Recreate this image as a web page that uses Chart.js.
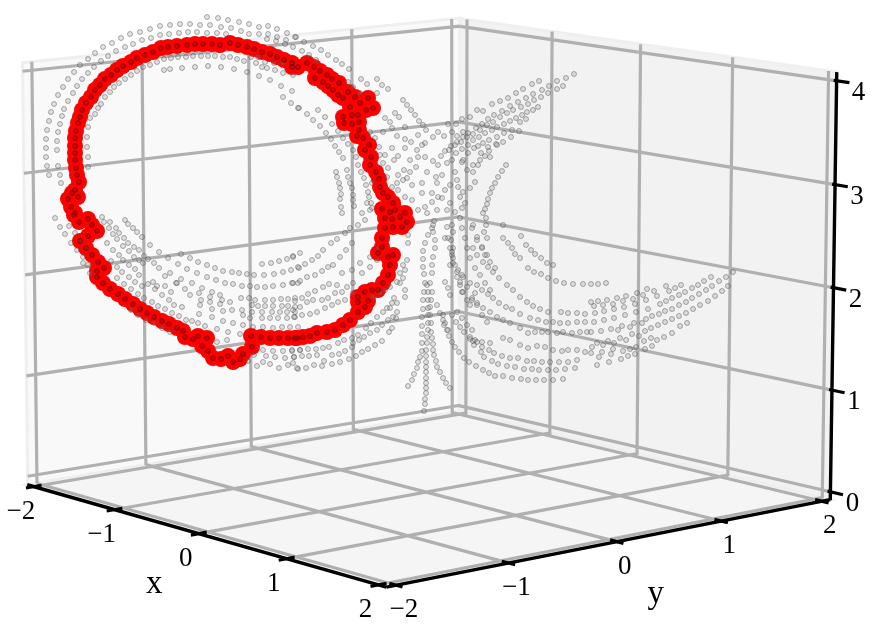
<!DOCTYPE html>
<html><head><meta charset="utf-8">
<style>html,body{margin:0;padding:0;background:#fff}canvas{display:block}</style>
<script src="https://cdn.jsdelivr.net/npm/chart.js@4"></script>
</head><body><canvas id="c" width="889" height="641"></canvas>
<script>
const xTicks=[-2,-1,0,1,2], yTicks=[-2,-1,0,1,2], zTicks=[0,1,2,3,4];
const xLabel='x', yLabel='y';
const L=2.0833, zLo=-0.0833, zHi=4.0833;
// calibration of each box face: two box coordinates -> view position
const leftWallCal=[[-2,4,32,71],[2,4,452,27],[2,0,452,407],[-2,0,37,475],[0,2,250,246],[-L,zHi,22,62],[L,zHi,460,18],[-L,zLo,28,485],[L,zLo,460,414],[-1,3,143,160],[-1,2,144,257],[-1,1,145,358],[0,3,249,147],[1,3,352,135],[1,2,353,230],[1,1,353,325]];
const rightWallCal=[[-2,4,467,28],[-2,0,465,407],[2,4,829,80],[2,0,822,491],[0,2,639,251],[-L,zHi,460,18],[L,zHi,836,72],[L,zLo,830,500],[-L,zLo,460,414],[0,4,640,52],[0,3,639,153],[1,3,732,167],[1,4,733,66],[0,1,638,348],[1,1,729,368],[1,2,731,268]];
const floorCal=[[-1,-2,123,508],[1,-2,297,557],[2,-1,501,561],[2,1,711,519],[1,1,621,495],[-1,-1,235,488],[1,-1,405,535],[-1,1,445,449],[0,-1,318,512],[1,0,516,515],[-1,0,340,469],[0,1,529,474],[-L,-L,27,485],[L,-L,388,587],[L,L,830,500],[-L,L,460,413],[-L,-1,146,466],[-L,0,252,448],[-L,1,353,429],[-1,L,550,430],[0,L,637,454],[1,L,728,476],[2,L,823,499]];
// highlighted ring, projected view positions
const ringTopLeft=[[220,45],[212,44],[203,44],[195,44],[187,45],[177,46],[168,47],[161,48],[153,52],[145,55],[137,58],[131,62],[123,66],[117,70],[111,75],[105,79],[100,85],[95,90],[91,97],[86,103],[82,110],[80,117],[78,123],[76,131],[75,138],[75,146],[75,153],[75,160],[76,168],[77,175],[79,182],[75,190],[72,193],[68,199],[78,197],[71,207],[75,213]];
const ringTopRight=[[230,43],[238,45],[247,47],[254,49],[262,52],[270,54],[277,57],[284,60],[292,63],[292,67],[298,67],[307,63],[314,67],[320,71],[315,78],[323,82],[327,75],[332,79],[339,83],[333,90],[328,86],[338,95],[348,92],[355,97],[343,98],[350,107],[360,103],[368,98],[366,110],[373,108],[358,115],[352,115],[343,117],[344,123],[352,124],[359,122],[359,130],[357,136],[363,138],[369,145],[365,150],[371,157],[370,165],[376,172],[379,179],[380,187],[383,193],[388,197],[393,203],[382,209],[390,212],[395,210],[405,213]];
const ringRight=[[385,218],[392,219],[400,217],[407,222],[402,227],[393,227],[385,228],[382,238],[382,247],[378,253],[388,257],[393,255],[390,265],[388,275],[383,283],[378,290],[372,290],[365,292],[358,297],[358,302],[368,301],[365,307],[358,312],[350,320],[343,325],[335,330],[327,332],[317,333],[310,336],[303,337],[295,338]];
const ringBottom=[[297,338],[288,338],[279,338],[270,338],[261,337],[251,336],[252,347],[243,354],[240,359],[233,362],[228,356],[221,359],[213,358],[208,351],[202,346],[207,338],[198,336],[193,339],[185,337],[183,331],[177,328],[169,324],[162,321],[154,317],[147,313],[140,309],[133,304],[125,299],[118,294],[110,289],[103,283],[97,277],[104,268],[97,271],[98,262],[92,255],[86,248],[80,241],[88,236],[97,231],[88,219],[79,222],[74,215],[92,225]];
// faint surface points, projected view positions
const grayUpper=[[49,175],[47,166],[46,157],[46,148],[46,139],[47,130],[49,121],[51,112],[54,104],[58,95],[63,87],[68,79],[74,72],[80,65],[88,59],[95,53],[103,47],[112,43],[121,38],[130,34],[140,32],[150,29],[160,26],[170,25],[180,24],[190,24],[200,25],[210,25],[221,27],[231,28],[241,31],[249,34],[207,17],[218,18],[228,20],[239,22],[249,24],[259,27],[268,26],[277,29],[287,33],[296,37],
[61,183],[60,175],[58,166],[57,150],[57,141],[58,132],[60,124],[62,116],[64,109],[68,101],[73,93],[77,86],[82,79],[88,73],[94,67],[101,61],[108,56],[116,51],[125,47],[133,44],[142,40],[151,38],[160,35],[169,34],[179,33],[188,32],[197,32],[207,33],[217,33],[226,34],
[88,167],[88,157],[87,147],[87,137],[88,127],[90,118],[95,114],[98,108],[101,104],[105,97],[110,92],[114,87],[119,83],[125,79],[131,75],[137,71],[143,67],[150,65],[157,62],[164,59],[171,58],[178,57],[186,57],[193,56],[201,56],[208,56],[215,56],[223,57],[230,57],[237,59],[244,61],
[164,70],[170,69],[182,68],[195,67],[208,66],[221,67],[234,69],[247,72],[259,76],[270,80],[281,86],[292,91],[283,97],[291,103],[298,108],
[251,57],[258,57],[265,62],[274,63],[283,63],[293,65],[267,68],[275,70],[283,73],[293,75],[256,63],[262,67],[259,34],[268,34],[277,37],[286,40],[293,47],[285,44],[276,41],[267,39],
[295,37],[304,42],[313,46],[321,50],[328,55],[336,60],[342,64],[349,69],[361,79],[367,84],[377,79],[382,85],[388,89],[403,100],[407,105],[411,110],[415,115],[419,121],[423,125],[426,130],
[302,51],[309,55],[316,60],[348,82],[353,87],[360,93],[377,93],[385,118],[390,122],[395,113],[399,117],[405,127],
[299,108],[307,114],[313,120],[320,126],[326,133],[331,139],[335,146],[339,152],[343,158],[318,110],[325,117],[332,124],[338,131],[343,138],[348,144],[353,150],[356,157],[358,165],
[336,172],[337,177],[339,183],[340,188],[341,194],[340,199],[341,207],[342,213],[347,170],[348,177],[350,183],[352,188],[353,195],[353,200],[354,206],[361,172],[364,178],[366,185],[368,192],[369,197],[371,203],[372,208]];
const grayFan=[[574,74],[566,78],[557,81],[549,86],[542,90],[533,94],[526,98],[518,102],[510,106],[502,111],[494,115],[488,119],[482,124],[476,128],[468,133],[463,137],[457,142],[451,146],[445,151],[441,156],
[539,81],[532,84],[523,89],[516,93],[508,98],[500,101],[492,104],[483,111],[477,110],[470,117],[462,119],[456,124],[448,124],
[563,86],[557,89],[548,93],[541,97],[534,100],[528,104],[521,107],[513,110],[507,113],[500,117],[493,122],[487,125],[480,130],[473,134],[467,137],[461,142],[455,145],[449,150],
[538,107],[533,110],[527,112],[522,115],[516,118],[510,121],[504,124],[497,127],[492,130],[485,133],[479,137],[473,140],[468,145],[462,149],[456,153],
[526,119],[520,122],[519,131],[512,130],[504,133],[497,137],[489,140],[483,143],[478,146],[474,148],[468,153],[463,160],
[511,137],[503,142],[496,144],[489,151],[485,156],[480,160],[478,165],[473,172],[506,165],[502,171],[498,177],[495,183],[492,188],[490,193],[488,199],[487,204],[485,209],[483,213]];
const grayCentre=[[383,132],[392,128],[397,136],[405,139],[411,142],[418,135],[425,143],[438,132],[433,137],[444,136],[452,132],[457,136],[463,132],[370,132],[375,138],[379,147],[380,155],[383,163],[388,168],[385,155],[392,148],[394,160],[398,156],[405,148],[410,160],[417,150],[422,145],[425,157],[418,157],[416,167],[410,172],[404,170],[398,175],[397,183],[403,180],[407,178],[412,185],[422,183],[427,172],[433,161],[438,165],[436,177],[442,175],[437,183],[447,163],[452,160],[455,172],[462,162],[457,180],[450,185],[445,190],[438,197],[432,202],[425,207],[418,210],[412,200],[405,197],[398,190],[392,187],[387,177],[372,183],[367,203],[370,210],[362,213],[422,193],[432,193],[442,198],[450,203],[458,187],[463,192],[470,188],[475,182],[467,170],[473,165],[481,153],[488,147],[497,145],[490,157],[460,197],[465,203],[462,208],[455,212],[447,210],[437,210],[427,213],
[445,238],[450,248],[453,258],[458,270],[463,277],[470,283],[475,293],[472,228],[477,240],[482,248],[487,255],[445,282],[448,288],[450,295],[443,315],[445,323],[448,330],[453,232],[453,248],[455,265],[457,277],[460,285],[462,292],[467,300],[470,305],[452,225],[451,240],[452,255],[450,265],
[473,225],[477,237],[482,247],[485,255],[490,262],[495,268],[460,218],[462,228],[465,238],[467,248],[470,258],[475,268],[480,275],[485,283],[490,290],[447,227],[448,238],[452,252],[453,263],[457,272],[460,282],[463,292],[462,275],[467,287],[472,298],[477,305],[482,315],[487,322],[457,312],[462,318],[467,325],[472,330],[475,340]];
const grayDrops=[[408,386],[412,380],[414,374],[417,368],[418,362],[420,357],[422,351],[422,343],[422,334],[422,326],[422,317],[423,309],[423,300],[424,292],[425,283],[424,274],[423,267],[423,259],[423,251],[425,243],[428,235],[432,228],[434,221],
[424,411],[425,404],[425,399],[426,393],[426,388],[426,383],[426,378],[426,372],[426,367],[426,362],[426,356],[426,350],[427,343],[427,337],[428,330],[428,323],[428,315],[428,308],[428,300],[428,292],[427,285],
[450,388],[446,383],[443,378],[440,372],[437,367],[436,361],[434,355],[433,350],[433,344],[432,338],[431,332],[431,323],[430,315],[430,307],[431,300],[432,292],[430,283],[432,273],[432,265],[433,257],[435,248],[435,240],[433,232],[433,225]];
const grayRightArcs=[[563,379],[553,380],[544,380],[536,380],[528,380],[521,379],[512,378],[503,376],[495,376],[489,373],[483,370],[476,366],[469,362],[464,358],[459,352],[455,347],[452,342],[449,336],[447,330],[444,325],[443,320],[440,313],[437,305],
[575,368],[565,369],[556,370],[548,370],[539,370],[532,369],[524,369],[515,367],[507,366],[498,364],[492,361],[484,357],[481,352],[474,345],[470,339],[464,332],[460,327],[456,322],[452,315],
[577,360],[568,362],[559,362],[550,362],[542,362],[534,361],[527,361],[518,358],[510,358],[502,356],[494,353],[489,350],[482,347],[477,342],[470,337],
[585,352],[577,350],[568,350],[562,351],[553,350],[545,347],[537,346],[528,348],[520,345],[510,340],[503,338],[490,343],[482,342],[473,341],
[587,332],[580,332],[572,333],[563,332],[557,333],[548,332],[542,332],[535,332],[528,333],[520,328],[510,323],[503,320],[497,317],[490,312],[483,308],[477,303],[472,300],
[585,322],[577,322],[568,323],[560,323],[553,322],[546,322],[538,320],[530,318],[520,314],[512,309],[506,307],[499,303],[493,298],[488,294],[482,290],[477,285],
[585,314],[577,313],[568,313],[561,312],[548,312],[540,309],[533,306],[527,302],[520,297],[513,290],[507,285],[499,278],[493,272],[488,267],[483,262],[477,255],[473,248],
[553,265],[547,263],[541,258],[535,254],[531,250],[526,245],[521,236],[503,225],[508,243],[512,248],[515,254],[520,258],[528,268],[534,272],[541,274],[548,278],[556,281],[564,283],[573,284],[583,284],[503,238],[486,218],[486,225],[484,232],[487,238]];
const grayFarRight=[[733,272],[726,277],[728,286],[719,281],[722,291],[711,277],[704,281],[712,286],[715,296],[698,285],[706,290],[708,301],[692,288],[699,294],[700,305],[685,292],[692,298],[693,309],[679,295],[686,302],[686,313],[681,285],[675,288],[672,298],[679,305],[679,316],[666,286],[669,291],[666,301],[672,309],[672,319],[680,326],[687,323],[660,304],[665,311],[665,322],[672,333],[654,291],[657,296],[659,314],[658,325],[664,337],[647,289],[648,309],[652,316],[651,328],[657,340],[652,346],[643,295],[646,300],[646,319],[645,331],[651,338],[637,293],[635,304],[636,312],[642,323],[644,341],[645,349],[639,336],[634,323],[632,334],[636,347],[635,354],[630,349],[628,356],[621,359],[623,351],[613,349],[611,354],[609,362],[602,352],[599,357],[597,365],[591,353],[592,347],[603,345],[597,343],[608,341],[614,343],[620,338],[626,340],[630,327],[622,326],[618,330],[611,329],[601,331],[591,332],[594,322],[604,320],[614,318],[625,315],[595,313],[604,311],[614,309],[624,307],[594,306],[603,305],[613,304],[623,301],[591,302],[598,301],[607,300],[617,298],[626,296],[633,299],[591,284],[598,284],[606,283]];
const grayLowerLeft=[[150,245],[159,252],[168,258],[178,264],[187,269],[197,273],[207,277],[216,280],[225,283],[233,284],[242,286],[250,286],[257,287],[265,287],[273,286],[283,285],[292,283],[298,283],
[181,254],[190,258],[198,262],[207,265],[215,268],[223,271],[232,272],[239,273],[247,274],[254,275],[264,275],[274,274],[283,272],[291,270],[299,268],[262,264],[271,263],[279,261],[287,259],[293,256],[300,253],
[255,300],[265,300],[273,300],[281,299],[288,299],[295,298],[258,306],[265,306],[273,306],[282,306],[288,306],[295,307],[262,312],[272,312],[280,312],[287,312],[295,312],[262,318],[270,318],[278,318],[287,318],[295,317],[253,327],[263,327],[273,328],[282,327],[290,327],[298,327],
[263,350],[273,351],[283,351],[292,351],[300,350],[254,355],[266,356],[275,357],[285,358],[294,357],[248,361],[257,366],[263,362],[270,364],[279,368],[288,365],[298,369],[293,363],
[55,218],[60,227],[65,234],[71,243],[77,250],[83,257],[83,263],[88,265],[90,273],[69,226],[75,233],[81,241],[87,248],
[102,217],[104,222],[109,228],[113,234],[117,239],[123,246],[129,251],[134,257],[139,260],[144,256],[148,259],[154,263],[159,268],[165,276],[170,273],[176,283],[181,279],
[110,222],[116,228],[119,233],[124,238],[128,243],[134,247],[139,250],[133,228],[137,232],[142,237],[125,220],[128,224],
[107,243],[113,250],[119,255],[123,260],[129,265],[135,269],[139,275],[143,263],
[111,261],[117,267],[122,272],[129,277],[135,282],[142,286],[153,282],[157,286],[165,286],[171,292],[177,283],[185,289],[192,283],[190,295],[202,288],[199,293],[210,297],[212,292],[220,295],[222,300],[230,302],[241,298],[249,298],
[117,278],[124,284],[131,289],[138,294],[144,298],[152,302],[158,306],[165,309],[172,313],[179,316],[186,320],[192,321],[198,323],[205,326],[217,329],[131,310],[138,315],[146,320],[154,323],[162,328],[170,332],
[201,300],[200,305],[210,302],[212,309],[220,304],[223,311],[232,310],[242,310],[243,315],[233,323],[223,321],[212,317],[199,314],[243,325],[228,332],[217,342],[227,340],[240,334],[182,307],[174,305],[169,300],[162,295],[155,289],[148,284],[252,305],[252,312],[250,318]];
const grayLowerMid=[[297,368],[306,368],[314,365],[322,366],[332,364],[340,362],[349,359],[356,356],[362,352],[368,349],[375,345],[382,341],[389,332],[392,328],[396,318],
[294,357],[302,356],[309,356],[317,355],[324,361],[332,355],[339,354],[345,351],[352,347],[353,343],[359,340],[364,337],[370,333],[377,330],[382,325],[388,320],[393,317],[397,312],
[292,350],[300,350],[308,349],[316,349],[323,348],[329,347],[338,343],[344,340],[352,338],[358,335],[366,328],[371,323],[377,317],[383,312],[387,308],[392,303],[394,298],
[293,257],[298,267],[305,264],[312,260],[318,256],[323,250],[331,243],[337,239],[345,233],[350,228],[358,225],[365,220],
[293,283],[300,281],[307,277],[315,275],[322,271],[328,267],[333,265],[340,257],[346,250],[352,243],
[295,301],[302,298],[308,294],[315,291],[323,287],[329,284],[337,285],[342,273],[352,270],[360,263],[370,257],[378,248],
[293,310],[300,307],[307,302],[313,300],[322,300],[328,298],[335,293],[342,292],[347,287],[353,283],[362,273],[370,267],[377,260],
[294,317],[302,315],[310,314],[317,312],[325,308],[332,305],[338,302],[345,300],[353,293],
[373,297],[380,293],[385,290],[390,287],[397,282],[403,278],[405,270],[407,260],[408,243],[408,235],[390,308],[397,303],[405,297],[405,290],[400,283],[400,273],[403,265]];

// fit a plane-to-view homography for each face (least squares)
function fitFace(pts){
  const n=8,A=Array.from({length:n},()=>new Array(n+1).fill(0));
  const add=(r,b)=>{for(let i=0;i<n;i++){for(let j=0;j<n;j++)A[i][j]+=r[i]*r[j];A[i][n]+=r[i]*b;}};
  for(const [a,b,u,v] of pts){
    add([a,b,1,0,0,0,-u*a,-u*b],u);
    add([0,0,0,a,b,1,-v*a,-v*b],v);
  }
  for(let c=0;c<n;c++){
    let p=c;for(let r=c+1;r<n;r++)if(Math.abs(A[r][c])>Math.abs(A[p][c]))p=r;
    [A[c],A[p]]=[A[p],A[c]];
    for(let r=0;r<n;r++){if(r===c)continue;const f=A[r][c]/A[c][c];for(let k=c;k<=n;k++)A[r][k]-=f*A[c][k];}
  }
  const m=A.map((row,i)=>row[n]/row[i]);
  return (a,b)=>{const w=m[6]*a+m[7]*b+1;return {x:(m[0]*a+m[1]*b+m[2])/w,y:(m[3]*a+m[4]*b+m[5])/w};};
}
const leftWall=fitFace(leftWallCal), rightWall=fitFace(rightWallCal), floorFace=fitFace(floorCal);
const toPts=a=>a.map(p=>({x:p[0],y:p[1]}));
const gap={x:null,y:null};
const seg=(f,a1,b1,a2,b2)=>[f(a1,b1),f(a2,b2),gap];

const gridPts=[];
zTicks.forEach(z=>{gridPts.push(...seg(leftWall,-L,z,L,z),...seg(rightWall,-L,z,L,z));});
yTicks.forEach(y=>{gridPts.push(...seg(leftWall,y,zLo,y,zHi),...seg(floorFace,-L,y,2,y));});
xTicks.forEach(x=>{gridPts.push(...seg(rightWall,x,zLo,x,zHi),...seg(floorFace,x,-2,x,L));});
const axisPts=[...seg(floorFace,-L,-L,L,-L),...seg(floorFace,L,-L,L,L),...seg(rightWall,L,zLo,L,zHi)];
const tickPts=[];
xTicks.forEach(x=>tickPts.push(...seg(floorFace,x,-L-0.07,x,-L+0.07)));
yTicks.forEach(y=>tickPts.push(...seg(floorFace,L-0.07,y,L+0.07,y)));
zTicks.forEach(z=>tickPts.push(...seg(rightWall,L-0.03,z,L+0.13,z)));

const ring=[...ringTopLeft,...ringTopRight,...ringRight,...ringBottom];
const gray=[...grayUpper,...grayFan,...grayCentre,...grayDrops,...grayRightArcs,...grayFarRight,...grayLowerLeft,...grayLowerMid];

const lineDs=(data,color,w)=>({data,showLine:true,borderColor:color,borderWidth:w,pointRadius:0,pointHoverRadius:0,spanGaps:false,borderCapStyle:'butt',fill:false});
const paint=[
  lineDs(gridPts,'#b0b0b0',3.2),
  lineDs(tickPts,'#000',3.2),
  lineDs(axisPts,'#000',3.4),
  {data:toPts(ring),showLine:false,pointRadius:8,pointBackgroundColor:'#ff0000',pointBorderColor:'#ff0000',pointBorderWidth:0},
  {data:toPts(gray),showLine:false,pointRadius:2.5,pointBackgroundColor:'rgba(130,130,130,0.22)',pointBorderColor:'rgba(70,70,70,0.42)',pointBorderWidth:1},
  {data:toPts(ring),showLine:false,pointRadius:2.5,pointBackgroundColor:'rgba(110,0,0,0.35)',pointBorderColor:'rgba(110,0,0,0.6)',pointBorderWidth:1}
];
paint.forEach((d,i)=>d.order=paint.length-i);

const fmt=v=>v<0?'\u2212'+Math.abs(v):String(v);
const panes={id:'panes',beforeDatasetsDraw(chart){
  const {ctx,scales:{x:sx,y:sy}}=chart;
  const poly=(f,pts,fill)=>{ctx.beginPath();pts.forEach((p,i)=>{const q=f(p[0],p[1]),a=sx.getPixelForValue(q.x),b=sy.getPixelForValue(q.y);i?ctx.lineTo(a,b):ctx.moveTo(a,b);});ctx.closePath();ctx.fillStyle=fill;ctx.fill();ctx.strokeStyle='#efefef';ctx.lineWidth=3;ctx.stroke();};
  ctx.save();
  poly(leftWall,[[-L,zLo],[-L,zHi],[L,zHi],[L,zLo]],'#f9f9f9');
  poly(rightWall,[[-L,zLo],[-L,zHi],[L,zHi],[L,zLo]],'#f2f2f2');
  poly(floorFace,[[-L,-L],[L,-L],[L,L],[-L,L]],'#f5f5f5');
  ctx.restore();
}};
const labels={id:'labels',afterDatasetsDraw(chart){
  const {ctx,scales:{x:sx,y:sy}}=chart;
  const put=(q,dx,dy,t,size)=>{ctx.font=size+'px "Liberation Serif"';ctx.fillStyle='#000';ctx.textAlign='center';ctx.textBaseline='middle';ctx.fillText(t,sx.getPixelForValue(q.x)+dx,sy.getPixelForValue(q.y)+dy);};
  ctx.save();
  xTicks.forEach(v=>put(floorFace(v,-L),-13,25,fmt(v),27));
  yTicks.forEach(v=>put(floorFace(L,v),8,25,fmt(v),27));
  zTicks.forEach(v=>put(rightWall(L,v),22,12,fmt(v),27));
  put(floorFace(-0.5,-L),-2,63,xLabel,33);
  put(floorFace(L,0.35),2,60,yLabel,33);
  ctx.restore();
}};
new Chart(document.getElementById('c'),{
  type:'scatter',
  data:{datasets:paint},
  options:{responsive:false,animation:false,events:[],layout:{padding:0,autoPadding:false},
    plugins:{legend:{display:false},tooltip:{enabled:false},title:{display:false}},
    scales:{x:{type:'linear',min:0,max:889,display:false},y:{type:'linear',min:0,max:641,reverse:true,display:false}}},
  plugins:[panes,labels]
});
</script></body></html>
